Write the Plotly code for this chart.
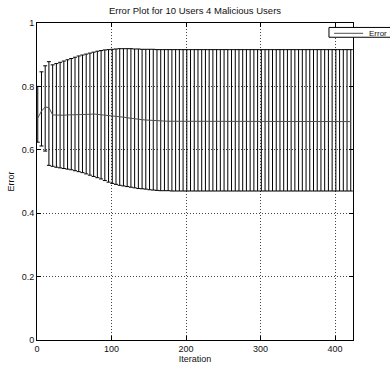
import plotly.graph_objects as go

# Sampled iterations (every 5th iteration)
iterations = list(range(1, 422, 5))

mean_error = [
    0.700, 0.722, 0.735, 0.733, 0.710, 0.709, 0.709, 0.709, 0.710, 0.710,
    0.711, 0.712, 0.711, 0.711, 0.712, 0.713, 0.712, 0.711, 0.709, 0.708,
    0.707, 0.706, 0.705, 0.703, 0.701, 0.699, 0.697, 0.696, 0.695, 0.694,
    0.693, 0.692, 0.692, 0.691, 0.691, 0.690, 0.690, 0.690, 0.690, 0.690,
    0.690, 0.690, 0.690, 0.690, 0.690, 0.689, 0.689, 0.689, 0.689, 0.689,
    0.689, 0.689, 0.689, 0.689, 0.689, 0.689, 0.689, 0.689, 0.689, 0.689,
    0.689, 0.689, 0.689, 0.689, 0.689, 0.689, 0.689, 0.689, 0.689, 0.689,
    0.689, 0.689, 0.689, 0.689, 0.689, 0.689, 0.689, 0.689, 0.689, 0.689,
    0.689, 0.689, 0.689, 0.689, 0.689,
]

upper_bound = [
    0.800, 0.846, 0.865, 0.878, 0.868, 0.872, 0.876, 0.880, 0.884, 0.888,
    0.892, 0.896, 0.899, 0.902, 0.905, 0.908, 0.911, 0.913, 0.915, 0.916,
    0.917, 0.918, 0.919, 0.919, 0.919, 0.919, 0.918, 0.918, 0.917, 0.917,
    0.917, 0.917, 0.916, 0.916, 0.916, 0.916, 0.916, 0.916, 0.916, 0.916,
    0.916, 0.916, 0.916, 0.916, 0.916, 0.916, 0.916, 0.916, 0.916, 0.916,
    0.916, 0.916, 0.916, 0.916, 0.916, 0.916, 0.916, 0.916, 0.916, 0.916,
    0.916, 0.916, 0.916, 0.916, 0.916, 0.916, 0.916, 0.916, 0.916, 0.916,
    0.916, 0.916, 0.916, 0.916, 0.916, 0.916, 0.916, 0.916, 0.916, 0.916,
    0.916, 0.916, 0.916, 0.916, 0.916,
]

lower_bound = [
    0.624, 0.612, 0.596, 0.551, 0.548, 0.545, 0.543, 0.541, 0.539, 0.537,
    0.534, 0.531, 0.528, 0.524, 0.520, 0.516, 0.512, 0.508, 0.503, 0.498,
    0.494, 0.491, 0.488, 0.486, 0.484, 0.482, 0.480, 0.478, 0.477, 0.476,
    0.474, 0.473, 0.472, 0.471, 0.471, 0.471, 0.470, 0.470, 0.470, 0.470,
    0.470, 0.470, 0.470, 0.470, 0.470, 0.470, 0.470, 0.470, 0.470, 0.470,
    0.470, 0.470, 0.470, 0.470, 0.470, 0.470, 0.470, 0.470, 0.470, 0.470,
    0.470, 0.470, 0.470, 0.470, 0.470, 0.470, 0.470, 0.470, 0.470, 0.470,
    0.470, 0.470, 0.470, 0.470, 0.470, 0.470, 0.470, 0.470, 0.470, 0.470,
    0.470, 0.470, 0.470, 0.470, 0.470,
]

x_ticks = [0, 100, 200, 300, 400]
y_ticks = [0, 0.2, 0.4, 0.6, 0.8, 1]
y_tick_labels = ["0", "0.2", "0.4", "0.6", "0.8", "1"]
series_name = "Error"

err_plus = [u - m for u, m in zip(upper_bound, mean_error)]
err_minus = [m - l for m, l in zip(mean_error, lower_bound)]

FONT = "Liberation Sans, Arial, Helvetica, sans-serif"
LINE_GREY = "#505050"
TEXT = "#111111"

fig = go.Figure()
fig.add_trace(go.Scatter(
    x=iterations,
    y=mean_error,
    mode="lines",
    name=series_name,
    showlegend=False,
    line=dict(color=LINE_GREY, width=1),
    error_y=dict(
        type="data",
        symmetric=False,
        array=err_plus,
        arrayminus=err_minus,
        color="black",
        thickness=1,
        width=2,
    ),
))

axis_common = dict(
    showline=True,
    linecolor="black",
    linewidth=1,
    mirror="ticks",
    ticks="inside",
    ticklen=4,
    tickcolor="black",
    showgrid=True,
    gridcolor="#444444",
    gridwidth=1,
    griddash="1px,2px",
    zeroline=False,
    tickfont=dict(family=FONT, size=9, color=TEXT),
)

fig.update_xaxes(
    range=[0, 424],
    tickvals=x_ticks,
    title=dict(text="Iteration", font=dict(family=FONT, size=9, color=TEXT), standoff=1),
    **axis_common,
)
fig.update_yaxes(
    range=[0, 1],
    tickvals=y_ticks,
    ticktext=y_tick_labels,
    title=dict(text="Error", font=dict(family=FONT, size=9, color=TEXT), standoff=5),
    **axis_common,
)

# Legend box in the top-right corner, running off the right edge
fig.add_shape(type="rect", xref="paper", yref="paper",
              x0=0.924, x1=1.13, y0=0.955, y1=0.986,
              line=dict(color="black", width=1), fillcolor="white", layer="above")
fig.add_shape(type="line", xref="paper", yref="paper",
              x0=0.940, x1=1.032, y0=0.9675, y1=0.9675,
              line=dict(color=LINE_GREY, width=1), layer="above")
fig.add_annotation(xref="paper", yref="paper", x=1.044, y=0.9675,
                   text=series_name, showarrow=False,
                   xanchor="left", yanchor="middle",
                   font=dict(family=FONT, size=8, color=TEXT))

fig.update_layout(
    width=390,
    height=367,
    margin=dict(l=37, r=37, t=23, b=27, autoexpand=False),
    paper_bgcolor="white",
    plot_bgcolor="white",
    showlegend=False,
    title=dict(
        text="Error Plot for 10 Users 4 Malicious Users",
        font=dict(family=FONT, size=9.5, color=TEXT),
        x=0.5,
        xanchor="center",
        y=1 - 11 / 367,
        yanchor="middle",
    ),
)

fig.write_html("out.html")
